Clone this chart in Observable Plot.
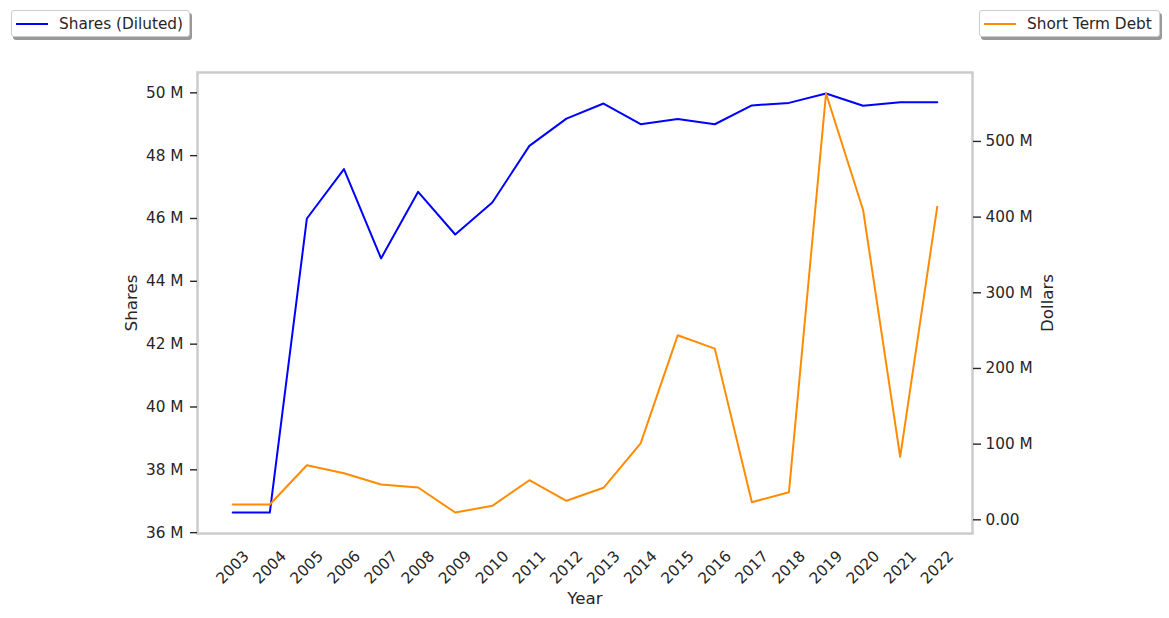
<!DOCTYPE html>
<html>
<head>
<meta charset="utf-8">
<script src="https://cdn.jsdelivr.net/npm/d3@7"></script>
<script src="https://cdn.jsdelivr.net/npm/@observablehq/plot@0.6"></script>
<style>
  html, body { margin: 0; padding: 0; background: #fff; }
  #wrap { position: relative; width: 1169px; height: 618px; font-family: "DejaVu Sans", sans-serif; color: #262626; }
  .legend { position: absolute; top: 10px; height: 27px; border: 1px solid #cccccc; border-radius: 3px; background: #fff;
            box-shadow: 2px 3px 0 #999; font-size: 15.3px; display: flex; align-items: center; box-sizing: border-box; }
  .legend .swatch { width: 32px; height: 2px; margin-left: 4px; margin-right: 11px; }
</style>
</head>
<body>
<div id="wrap">
  <div class="legend" style="left:11px; width:179px;"><div class="swatch" style="background:#0000ff"></div><span>Shares (Diluted)</span></div>
  <div class="legend" style="left:979px; width:181px;"><div class="swatch" style="background:#ff8c00"></div><span>Short Term Debt</span></div>
</div>
<script>
const years = [2003,2004,2005,2006,2007,2008,2009,2010,2011,2012,2013,2014,2015,2016,2017,2018,2019,2020,2021,2022];
const sharesM = [36.64,36.64,46.0,47.57,44.73,46.85,45.49,46.51,48.31,49.18,49.66,49.0,49.17,49.0,49.6,49.68,49.98,49.59,49.7,49.7];
const debtM = [20.2,20.2,72.1,61.6,46.6,42.7,9.6,18.5,52.3,25.1,42.3,101,243.8,226.2,23.3,36.5,563.4,409.4,83.2,413.8];
const leftTicksM = [36,38,40,42,44,46,48,50];
const leftTickLabels = ["36 M","38 M","40 M","42 M","44 M","46 M","48 M","50 M"];
const rightTicksM = [0,100,200,300,400,500];
const rightTickLabels = ["0.00","100 M","200 M","300 M","400 M","500 M"];

const shares = sharesM.map(v => v * 1e6);
const debt = debtM.map(v => v * 1e6);

function padded(arr) {
  const lo = d3.min(arr), hi = d3.max(arr), r = hi - lo;
  return [lo - 0.05 * r, hi + 0.05 * r];
}
const [sLo, sHi] = padded(shares);
const [dLo, dHi] = padded(debt);
const toY = d => sLo + (d - dLo) / (dHi - dLo) * (sHi - sLo);
const xr = years[years.length - 1] - years[0];
const xDomain = [years[0] - 0.05 * xr, years[years.length - 1] + 0.05 * xr];

const sharesData = years.map((y, i) => ({year: y, v: shares[i]}));
const debtData = years.map((y, i) => ({year: y, v: toY(debt[i])}));
const leftTicks = leftTicksM.map(v => v * 1e6);
const rightTicks = rightTicksM.map(v => toY(v * 1e6));

const textColor = "#262626";

const chart = Plot.plot({
  width: 1169,
  height: 618,
  marginLeft: 197,
  marginRight: 197,
  marginTop: 72,
  marginBottom: 85,
  style: {fontFamily: "DejaVu Sans, sans-serif", fontSize: "15.3px", color: textColor, background: "transparent", overflow: "visible"},
  x: {type: "linear", domain: xDomain, axis: null},
  y: {type: "linear", domain: [sLo, sHi], axis: null},
  marks: [
    Plot.line(sharesData, {x: "year", y: "v", stroke: "#0000ff", strokeWidth: 2}),
    Plot.line(debtData, {x: "year", y: "v", stroke: "#ff8c00", strokeWidth: 2}),
    Plot.frame({stroke: "#cccccc", strokeWidth: 2.5}),
    Plot.axisY(leftTicks, {anchor: "left", tickSize: 7, tickPadding: 7, stroke: textColor, strokeWidth: 1.4, fill: textColor,
      tickFormat: v => leftTickLabels[leftTicks.indexOf(v)], label: null}),
    Plot.axisY(rightTicks, {anchor: "right", tickSize: 8, tickPadding: 5, stroke: textColor, strokeWidth: 1.4, fill: textColor,
      tickFormat: v => rightTickLabels[rightTicks.indexOf(v)], label: null}),
    Plot.text(years, {x: d => d, text: d => String(d), frameAnchor: "bottom", dy: 34, rotate: -45, textAnchor: "middle", lineAnchor: "middle", fill: textColor}),
    Plot.text(["Year"], {frameAnchor: "bottom", dy: 65, textAnchor: "middle", lineAnchor: "middle", fontSize: 16.7, fill: textColor}),
    Plot.text(["Shares"], {frameAnchor: "left", dx: -66, rotate: -90, textAnchor: "middle", lineAnchor: "middle", fontSize: 16.7, fill: textColor}),
    Plot.text(["Dollars"], {frameAnchor: "right", dx: 75, rotate: -90, textAnchor: "middle", lineAnchor: "middle", fontSize: 16.7, fill: textColor})
  ]
});
chart.style.position = "absolute";
chart.style.left = "0";
chart.style.top = "0";
const wrap = document.getElementById("wrap");
wrap.insertBefore(chart, wrap.firstChild);
</script>
</body>
</html>
